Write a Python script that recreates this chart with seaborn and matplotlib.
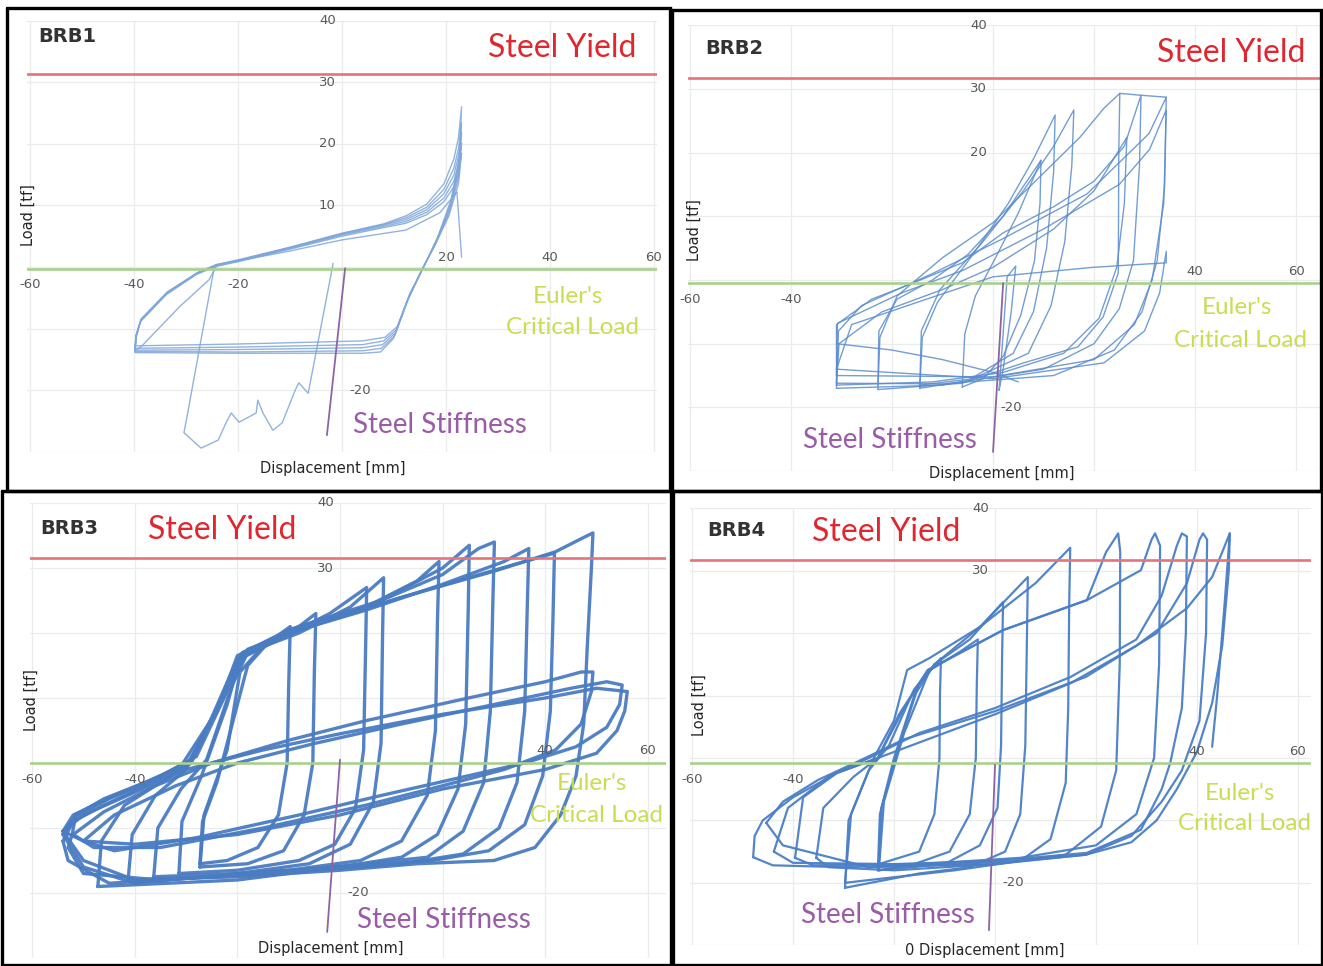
import matplotlib
matplotlib.use("Agg")
import pandas as pd
import matplotlib.pyplot as plt
import seaborn as sns

W, H = 1323, 966

# hysteresis curves: displacement [mm], load [tf]
brb1_disp = [
    [-39.8, -39.6, -38.7, -33.7, -27.9, -24.2, -19.8, -10.0, 0.0, 8.0, 12.3, 16.3, 19.6, 21.5, 22.4, 23.0, 22.6, 21.0, 18.5, 16.0, 13.1, 10.6, 8.3, 4.0, -20.0, -39.8],
    [-39.8, -39.6, -38.6, -33.5, -27.8, -24.2, -19.8, -10.0, 0.0, 8.0, 12.3, 16.3, 19.6, 21.5, 22.4, 23.0, 22.5, 20.8, 18.3, 15.8, 13.0, 10.5, 8.0, 4.0, -20.0, -39.8],
    [-39.8, -39.6, -38.6, -33.6, -27.8, -24.2, -19.8, -10.0, 0.0, 8.0, 12.3, 16.3, 19.6, 21.5, 22.4, 23.0, 22.5, 20.7, 18.2, 15.6, 12.8, 10.3, 7.8, 4.0, -20.0, -39.8],
    [-39.8, -39.6, -38.7, -33.7, -27.9, -24.2, -19.8, -10.0, 0.0, 8.0, 12.3, 16.3, 19.6, 21.5, 22.4, 23.0, 22.4, 20.6, 18.0, 15.4, 12.6, 10.1, 7.6, 4.0, -20.0, -39.8],
    [-39.8, -39.6, -38.8, -33.8, -28.0, -24.2, -19.8, -10.0, 0.0, 8.0, 12.3, 16.3, 19.6, 21.5, 22.4, 23.0, 22.4, 20.5, 17.8, 15.2, 12.4, 9.9, 7.4, 4.0, -20.0, -39.8],
    [-24.2, -10.0, 0.0, 12.3, 18.8, 22.1, 23.0],
    [-39.8, -38.7, -31.3, -25.6, -24.2],
    [-24.6, -30.0, -30.4, -27.1, -23.8, -22.3, -21.3, -19.8, -16.5, -16.2, -15.2, -13.3, -11.5, -9.0, -8.3, -6.5, -1.7],
]
brb1_load = [
    [-13.5, -11.2, -8.6, -4.2, -1.0, 0.3, 1.1, 3.2, 5.5, 7.0, 8.3, 10.2, 13.5, 17.5, 21.0, 26.0, 18.0, 11.0, 5.0, 0.5, -4.2, -9.7, -11.4, -12.0, -12.5, -12.8],
    [-13.2, -11.0, -8.4, -4.0, -0.9, 0.4, 1.2, 3.2, 5.4, 6.9, 8.0, 9.7, 12.6, 16.0, 19.2, 23.4, 16.5, 10.0, 4.6, 0.2, -4.6, -10.2, -12.0, -12.6, -13.0, -13.2],
    [-13.4, -11.1, -8.5, -4.1, -1.0, 0.3, 1.1, 3.1, 5.3, 6.8, 7.7, 9.3, 11.9, 14.9, 18.0, 21.8, 15.5, 9.4, 4.2, -0.1, -5.0, -10.7, -12.6, -13.1, -13.4, -13.5],
    [-13.6, -11.3, -8.7, -4.3, -1.1, 0.2, 1.0, 3.0, 5.2, 6.6, 7.4, 8.9, 11.2, 13.9, 16.6, 20.1, 14.5, 8.8, 3.8, -0.4, -5.4, -11.2, -13.2, -13.6, -13.8, -13.7],
    [-13.8, -11.5, -8.9, -4.5, -1.2, 0.1, 0.9, 2.9, 5.0, 6.4, 7.1, 8.5, 10.6, 13.0, 15.4, 18.5, 13.5, 8.2, 3.4, -0.7, -5.8, -11.6, -13.8, -14.0, -14.0, -13.9],
    [0.3, 2.6, 4.4, 6.0, 8.8, 12.2, 1.6],
    [-13.5, -13.0, -6.5, -2.1, 0.0],
    [-0.2, -25.2, -26.9, -29.4, -28.1, -25.3, -23.7, -25.2, -23.7, -21.6, -23.7, -26.5, -25.3, -20.0, -18.8, -20.5, 0.6],
]

brb2_disp = [
    [-6.1, -5.6, -3.5, 0.5, 5.0, 9.5, 9.3, 8.2, 5.5, 2.0, -2.0, -6.1],
    [-14.5, -14.0, -11.0, -4.0, 3.0, 8.0, 12.3, 12.0, 10.6, 8.0, 4.0, -5.0, -14.5],
    [-14.5, -14.2, -10.5, -2.0, 6.0, 12.0, 16.0, 15.6, 14.2, 11.5, 7.0, -4.0, -14.5],
    [-22.8, -22.4, -19.0, -10.0, 0.0, 9.0, 17.2, 22.0, 25.1, 24.9, 24.8, 21.8, 16.8, 6.1, -6.1, -22.8],
    [-31.0, -31.0, -24.0, -17.8, -6.1, 2.0, 12.0, 20.0, 26.0, 29.3, 29.0, 27.8, 25.0, 20.0, 10.0, -10.0, -31.0],
    [-31.0, -30.6, -26.0, -12.0, 2.0, 18.6, 30.9, 34.3, 34.0, 32.5, 29.5, 24.0, 12.0, -10.0, -31.0],
    [-31.0, -30.8, -18.0, -6.0, 10.0, 25.0, 31.0, 34.3, 33.8, 31.5, 28.0, 20.0, 0.0, -31.0],
    [-31.0, -28.0, -15.0, 0.0, 20.0, 34.3, 34.3, 33.0, 30.0, 22.0, 0.0, -31.0],
    [1.2, 2.8, 4.5, 3.6, 2.0, 1.2],
    [25.1, 29.3, 34.3],
    [-31.0, -30.5, -22.0, -10.0, 0.0, 12.0, 20.0, 26.5, 26.0, 24.5, 21.0, 14.0, 2.0, -12.0, -31.0],
    [-22.8, -22.6, -19.0, -12.0, -5.0, 2.0, 9.5],
    [-31.0, -20.0, -10.0, 0.0, 5.0],
]
brb2_load = [
    [-16.8, -8.5, -2.5, 3.5, 10.5, 18.8, 12.0, 3.0, -5.5, -12.0, -15.5, -16.8],
    [-17.0, -9.0, -3.5, 4.0, 12.0, 19.0, 25.9, 17.0, 5.0, -5.0, -11.5, -15.8, -17.0],
    [-16.5, -8.0, -1.5, 6.0, 14.0, 21.0, 26.7, 18.0, 6.0, -4.0, -11.5, -15.5, -16.5],
    [-17.2, -9.0, -2.5, 3.5, 9.0, 16.0, 22.4, 27.0, 29.3, 20.0, 1.1, -5.8, -10.5, -13.0, -16.2, -17.2],
    [-17.0, -7.0, -3.0, -1.1, 2.7, 7.4, 11.5, 15.5, 21.0, 29.0, 18.0, 3.0, -4.5, -10.0, -14.0, -16.5, -17.0],
    [-16.2, -8.0, -4.0, 1.0, 6.5, 13.5, 23.0, 28.7, 15.0, 3.0, -5.0, -11.0, -15.0, -16.3, -16.2],
    [-15.0, -6.8, -2.0, 1.5, 8.0, 15.0, 20.5, 26.7, 12.0, 0.0, -7.0, -12.5, -15.2, -15.0],
    [-14.0, -7.0, -3.5, 0.5, 2.0, 2.7, 4.5, -2.0, -8.0, -13.0, -15.5, -14.0],
    [-17.3, 0.5, 2.2, -5.0, -14.0, -17.3],
    [29.3, 29.0, 28.7],
    [-16.5, -10.0, -5.0, -1.5, 2.0, 8.0, 14.0, 22.4, 12.0, 2.0, -6.0, -11.5, -14.5, -16.0, -16.5],
    [-16.5, -8.0, -3.0, 0.0, 4.0, 10.0, 18.8],
    [-10.0, -11.0, -12.5, -14.5, -16.0],
]

brb3_disp = [
    [-27.3, -26.8, -24.0, -21.0, -18.0, -14.0, -9.7, -10.0, -10.3, -12.0, -16.0, -22.0, -27.3],
    [-27.3, -26.5, -22.0, -19.5, -15.0, -8.0, -4.7, -5.0, -5.3, -7.0, -11.0, -18.0, -27.3],
    [-31.4, -30.8, -27.0, -22.0, -19.5, -12.0, -2.0, 5.2, 5.0, 4.6, 3.0, -1.0, -8.0, -20.0, -31.4],
    [-36.3, -35.5, -31.0, -26.0, -21.0, -18.0, -8.0, 2.0, 8.5, 8.3, 8.0, 6.5, 2.0, -6.0, -20.0, -36.3],
    [-41.3, -40.5, -36.0, -30.0, -25.0, -20.0, -10.0, 5.0, 15.0, 19.3, 19.0, 18.6, 17.0, 12.0, 4.0, -10.0, -25.0, -41.3],
    [-47.2, -46.5, -42.0, -35.0, -29.0, -23.0, -19.0, -8.0, 8.0, 20.0, 25.2, 25.0, 24.5, 23.0, 19.0, 12.0, 0.0, -20.0, -47.2],
    [-52.2, -51.5, -46.0, -38.0, -31.0, -24.0, -20.0, -10.0, 5.0, 20.0, 27.0, 30.1, 29.8, 29.3, 28.0, 24.0, 17.0, 5.0, -15.0, -35.0, -50.0, -53.0, -52.2],
    [-54.0, -52.0, -46.0, -38.0, -30.0, -24.0, -20.0, -10.0, 5.0, 20.0, 32.0, 36.8, 36.5, 36.0, 34.5, 31.0, 24.0, 12.0, -5.0, -25.0, -45.0, -53.0, -54.0],
    [-54.0, -52.0, -45.0, -36.0, -29.0, -23.0, -19.0, -8.0, 10.0, 25.0, 36.0, 41.8, 41.5, 41.0, 39.5, 36.0, 29.0, 18.0, 0.0, -20.0, -40.0, -50.0, -54.0],
    [-54.0, -52.0, -44.0, -35.0, -28.0, -22.0, -18.0, -6.0, 12.0, 30.0, 42.0, 47.0, 49.3, 49.0, 48.2, 47.5, 46.0, 43.0, 38.0, 30.0, 15.0, 0.0, -20.0, -40.0, -50.0, -54.0],
    [-54.0, -50.0, -40.0, -30.0, -15.0, 0.0, 20.0, 40.0, 50.0, 56.0, 55.5, 54.0, 50.0, 40.0, 30.0, 20.0, 10.0, 0.0, -20.0, -40.0, -50.0, -54.0],
    [-52.0, -46.0, -36.0, -25.0, -10.0, 5.0, 25.0, 40.0, 47.0, 49.3, 49.0, 47.0, 42.0, 32.0, 20.0, 5.0, -15.0, -35.0, -48.0, -52.0],
    [-50.0, -44.0, -32.0, -20.0, -5.0, 12.0, 30.0, 45.0, 52.0, 55.0, 54.5, 52.0, 46.0, 36.0, 22.0, 8.0, -8.0, -28.0, -44.0, -50.0],
]
brb3_load = [
    [-15.5, -9.0, -3.0, 6.0, 15.0, 18.5, 21.0, 12.0, 0.0, -8.0, -13.0, -15.0, -15.5],
    [-16.0, -8.0, 2.0, 14.0, 18.0, 21.0, 23.0, 14.0, 0.0, -8.0, -13.5, -15.5, -16.0],
    [-17.0, -9.0, -2.0, 9.0, 16.0, 19.0, 23.0, 27.0, 18.0, 2.0, -7.0, -12.5, -15.0, -16.5, -17.0],
    [-17.5, -10.0, -4.0, 0.5, 12.0, 17.0, 20.0, 24.0, 28.5, 20.0, 3.0, -6.0, -12.5, -15.5, -17.0, -17.5],
    [-18.0, -11.0, -5.0, -1.0, 7.0, 16.0, 20.0, 24.0, 28.0, 31.0, 22.0, 5.0, -5.0, -12.0, -15.0, -16.5, -17.5, -18.0],
    [-19.0, -12.0, -6.5, -3.0, 0.0, 10.0, 17.0, 21.0, 25.0, 30.0, 33.5, 24.0, 6.0, -4.0, -11.0, -14.5, -16.0, -18.0, -19.0],
    [-11.0, -8.0, -5.5, -3.0, -0.5, 8.0, 16.5, 20.5, 24.0, 29.0, 33.0, 34.0, 25.0, 8.0, -3.0, -10.5, -14.5, -15.5, -17.0, -18.0, -17.0, -13.0, -11.0],
    [-12.0, -9.0, -6.5, -3.5, -0.5, 8.0, 16.0, 20.0, 23.5, 27.5, 31.0, 33.0, 24.0, 8.0, -3.0, -10.0, -14.0, -15.5, -16.5, -17.5, -18.5, -15.0, -12.0],
    [-11.0, -8.5, -5.5, -2.5, 0.5, 10.0, 16.5, 20.5, 25.0, 28.5, 31.0, 32.3, 22.0, 8.0, -2.0, -9.5, -13.5, -15.0, -16.0, -17.0, -18.5, -16.0, -11.0],
    [-10.5, -8.0, -5.0, -2.0, 1.0, 11.0, 17.5, 21.0, 25.5, 29.5, 32.5, 34.5, 35.4, 30.0, 18.0, 6.0, -2.0, -8.0, -13.0, -15.0, -15.5, -16.5, -17.5, -18.0, -15.0, -10.5],
    [-10.5, -8.0, -4.5, -1.0, 2.0, 4.5, 7.5, 10.0, 11.5, 11.0, 8.0, 5.0, 1.5, -1.0, -2.5, -4.0, -6.0, -8.0, -11.0, -12.5, -12.0, -10.5],
    [-11.0, -7.5, -3.5, 0.0, 3.5, 6.5, 10.0, 12.5, 14.0, 14.0, 11.0, 6.0, 2.0, -1.0, -3.5, -6.5, -10.0, -13.0, -13.0, -11.0],
    [-12.0, -8.0, -3.5, 0.0, 3.0, 6.0, 9.0, 11.5, 12.5, 12.0, 9.0, 5.5, 2.5, 0.0, -2.5, -5.0, -8.0, -11.5, -13.5, -12.0],
]

brb4_disp = [
    [-23.0, -22.5, -19.0, -15.0, -10.7, -10.9, -11.0, -12.0, -15.0, -23.0],
    [-23.0, -22.0, -18.0, -13.0, -7.0, -3.4, -3.6, -3.8, -5.0, -9.0, -16.0, -23.0],
    [-23.2, -22.8, -20.0, -16.0, -12.0, -5.0, 1.6, 1.4, 1.2, 0.5, -3.0, -10.0, -23.2],
    [-29.7, -29.0, -25.0, -21.0, -16.0, -12.0, -3.0, 6.5, 6.3, 6.0, 5.0, 2.0, -5.0, -15.0, -29.7],
    [-29.7, -28.5, -24.0, -20.0, -17.4, -13.0, -3.0, 8.0, 14.9, 14.7, 14.5, 14.0, 11.0, 5.0, -8.0, -29.7],
    [-35.4, -34.0, -28.0, -23.2, -19.0, -13.3, 1.6, 18.2, 22.0, 24.4, 24.8, 24.7, 24.0, 21.0, 14.0, 0.0, -20.0, -33.0, -35.4],
    [-39.6, -38.0, -31.3, -23.2, -18.0, -13.3, 1.6, 18.2, 28.9, 31.0, 31.7, 32.7, 32.5, 31.5, 28.0, 20.0, 5.0, -15.0, -36.0, -39.6],
    [-43.8, -41.0, -33.0, -25.0, -15.0, 0.0, 15.0, 28.0, 33.0, 36.0, 37.0, 38.0, 37.8, 37.0, 34.7, 33.0, 28.9, 18.2, 0.0, -20.0, -40.0, -43.8],
    [-45.3, -42.0, -35.0, -27.0, -18.0, 0.0, 18.0, 32.0, 38.0, 40.5, 41.2, 42.0, 41.8, 40.5, 37.0, 33.0, 27.0, 18.0, 0.0, -25.0, -42.0, -45.3],
    [-47.9, -47.6, -46.0, -40.0, -31.3, -23.2, -10.0, 0.0, 15.0, 28.0, 38.0, 43.0, 45.5, 46.5, 46.3, 45.0, 43.0, 40.0, 36.0, 32.0, 27.0, 18.0, 5.0, -10.0, -30.0, -44.0, -47.9],
    [46.5, 45.5, 44.0, 43.0],
]
brb4_load = [
    [-17.0, -8.0, 2.0, 12.0, 16.0, 10.0, 0.0, -9.0, -15.0, -17.0],
    [-18.0, -7.0, 4.0, 14.0, 17.0, 19.0, 12.0, 0.0, -9.0, -15.0, -17.0, -18.0],
    [-18.0, -9.0, 0.0, 10.0, 15.0, 19.0, 25.0, 16.0, 2.0, -8.0, -14.0, -17.0, -18.0],
    [-20.8, -10.0, -2.0, 2.0, 11.0, 15.0, 21.0, 29.0, 18.0, 2.0, -9.0, -15.0, -17.5, -18.5, -20.8],
    [-20.0, -9.0, 0.0, 6.0, 14.1, 16.0, 21.0, 28.0, 33.7, 25.0, 8.0, -4.0, -13.0, -16.5, -18.0, -20.0],
    [-16.0, -8.0, -3.0, 0.0, 7.0, 14.1, 20.5, 25.3, 33.0, 36.0, 33.0, 15.0, -2.0, -11.0, -15.5, -17.0, -18.0, -17.5, -16.0],
    [-16.0, -6.3, -2.4, 0.0, 8.0, 14.1, 20.5, 25.3, 30.1, 35.0, 36.0, 34.0, 15.0, 0.0, -9.0, -14.0, -16.0, -17.0, -17.2, -16.0],
    [-15.0, -8.0, -3.0, 0.0, 4.0, 8.0, 13.0, 19.0, 26.0, 34.0, 36.0, 35.5, 20.0, 8.0, -0.8, -5.0, -11.5, -15.2, -16.5, -17.0, -16.8, -15.0],
    [-10.4, -7.0, -3.5, -0.5, 3.0, 7.5, 13.0, 20.0, 28.0, 35.0, 36.0, 35.0, 20.0, 6.0, -2.0, -7.0, -12.5, -15.5, -17.0, -17.5, -14.0, -10.4],
    [-15.9, -12.5, -10.0, -6.3, -2.4, 0.0, 4.0, 7.0, 12.0, 18.0, 24.0, 29.0, 34.0, 36.0, 30.0, 18.0, 8.8, 1.0, -5.0, -10.0, -13.5, -15.5, -16.5, -17.0, -17.5, -17.2, -15.9],
    [36.0, 25.0, 10.0, 1.8],
]

panel_names = ["BRB1", "BRB2", "BRB3", "BRB4"]
yield_load = [31.3, 31.7, 31.5, 31.7]
euler_load = [-0.3, -0.5, 0.0, -0.8]
stiff_disp = [[0.6, -2.9], [2.0, 0.0], [0.0, -2.5], [0.0, -1.2]]
stiff_load = [[-0.2, -27.3], [-0.5, -27.0], [0.5, -26.0], [-1.1, -27.6]]
x_tick_labels = [[-60, -40, -20, 20, 40, 60], [-60, -40, 40, 60], [-60, -40, 40, 60], [-60, -40, 40, 60]]
y_tick_labels = [[40, 30, 20, 10, -20], [40, 30, 20, -20], [40, 30, -20], [40, 30, -20]]

curves = [(brb1_disp, brb1_load), (brb2_disp, brb2_load), (brb3_disp, brb3_load), (brb4_disp, brb4_load)]

# layout (pixel boxes of the plot areas, axis limits) and line styles
boxes = [(27.4, 20.6, 656.6, 451.8), (687.5, 25.2, 1321.3, 471.1),
         (29.6, 503.0, 665.8, 958.0), (689.5, 508.4, 1310.6, 945.2)]
xlims = [(-60.5, 60.5), (-60.5, 65.0), (-60.5, 63.5), (-60.5, 62.5)]
line_col = ["#7ea6d8", "#5a8ccc", "#4a7cc2", "#4a7ec6"]
line_w = [1.0, 1.0, 2.4, 1.6]
line_a = [0.85, 0.85, 0.95, 0.95]

sns.set_style("white")
plt.rcParams["font.family"] = ["DejaVu Sans"]
ANN = ["Lato", "DejaVu Sans"]

fig = plt.figure(figsize=(W / 100, H / 100), dpi=100)


def fx(x):
    return x / W


def fy(y):
    return 1 - y / H


for i in range(4):
    x0, y0, x1, y1 = boxes[i]
    ax = fig.add_axes([fx(x0), fy(y1), (x1 - x0) / W, (y1 - y0) / H])
    rows = []
    for k, (xs, ys) in enumerate(zip(*curves[i])):
        for j, (a, b) in enumerate(zip(xs, ys)):
            rows.append({"curve": k, "order": j, "disp": a, "load": b})
    df = pd.DataFrame(rows)
    ax.set_axisbelow(True)
    ax.set_xticks(range(-60, 61, 20))
    ax.set_yticks(range(-30, 41, 10))
    ax.grid(True, color="#ebebeb", lw=0.9)
    ax.tick_params(length=0, labelbottom=False, labelleft=False)
    for s in ax.spines.values():
        s.set_visible(False)
    sns.lineplot(data=df, x="disp", y="load", units="curve", estimator=None, sort=False,
                 color=line_col[i], linewidth=line_w[i], alpha=line_a[i], ax=ax, legend=False,
                 solid_joinstyle="round")
    ax.axhline(yield_load[i], color="#e5737a", lw=1.9, zorder=3)
    ax.axhline(euler_load[i], color="#a9d08e", lw=1.9, zorder=3)
    ax.plot(stiff_disp[i], stiff_load[i], color="#8c64a6", lw=1.3, zorder=4)
    ax.set_xlim(*xlims[i])
    ax.set_ylim(-30, 40)
    ax.set_xlabel("")
    ax.set_ylabel("")
    for v in x_tick_labels[i]:
        off = -2.6 if v < 0 else 1.9
        ax.text(v, euler_load[i] + off, str(v), ha="center", va="center", fontsize=9.5, color="#595959")
    for v in y_tick_labels[i]:
        if v > 0:
            ax.text(-1.2, v, str(v), ha="right", va="center", fontsize=9.5, color="#595959")
        else:
            ax.text(1.4, v, str(v), ha="left", va="center", fontsize=9.5, color="#595959")

# panel frames
bg = fig.add_axes([0, 0, 1, 1], facecolor="none")
bg.set_xlim(0, W)
bg.set_ylim(H, 0)
bg.axis("off")
for (a, b, c, d) in [(7, 8, 670, 491), (672, 10, 1321, 491), (1.5, 491, 671, 964.5), (673, 491, 1322, 964.5)]:
    bg.plot([a, c, c, a, a], [b, b, d, d, b], color="black", lw=2.4, solid_joinstyle="miter")

# annotations
labels = [
    dict(brb=(38, 37), sy=(636, 48, "right"), eu=(568, 296), cl=(572, 328), ss=(353, 425), dp=(333, 468), ld=(28, 215)),
    dict(brb=(705, 48), sy=(1305, 53, "right"), eu=(1237, 308), cl=(1240, 340), ss=(803, 440), dp=(1002, 474), ld=(694, 230)),
    dict(brb=(40, 528), sy=(148, 530, "left"), eu=(592, 783), cl=(596, 816), ss=(357, 920), dp=(331, 948), ld=(31, 700)),
    dict(brb=(707, 531), sy=(812, 532, "left"), eu=(1240, 793), cl=(1245, 824), ss=(801, 915), dp=(985, 950), ld=(699, 705)),
]
for i, L in enumerate(labels):
    fig.text(fx(L["brb"][0]), fy(L["brb"][1]), panel_names[i], ha="left", va="center",
             fontsize=14, fontweight="bold", color="#333333")
    fig.text(fx(L["sy"][0]), fy(L["sy"][1]), "Steel Yield", ha=L["sy"][2], va="center",
             fontsize=23, color="#e0262e", family=ANN)
    fig.text(fx(L["eu"][0]), fy(L["eu"][1]), "Euler's", ha="center", va="center",
             fontsize=17.5, color="#c6df52", family=ANN)
    fig.text(fx(L["cl"][0]), fy(L["cl"][1]), "Critical Load", ha="center", va="center",
             fontsize=17.5, color="#c6df52", family=ANN)
    fig.text(fx(L["ss"][0]), fy(L["ss"][1]), "Steel Stiffness", ha="left", va="center",
             fontsize=20, color="#9a5ba8", family=ANN)
    dtxt = "0 Displacement [mm]" if i == 3 else "Displacement [mm]"
    fig.text(fx(L["dp"][0]), fy(L["dp"][1]), dtxt, ha="center", va="center",
             fontsize=10.5, color="#262626")
    fig.text(fx(L["ld"][0]), fy(L["ld"][1]), "Load [tf]", ha="center", va="center",
             fontsize=10.5, color="#262626", rotation=90)

fig.savefig("out.png", dpi=100)
